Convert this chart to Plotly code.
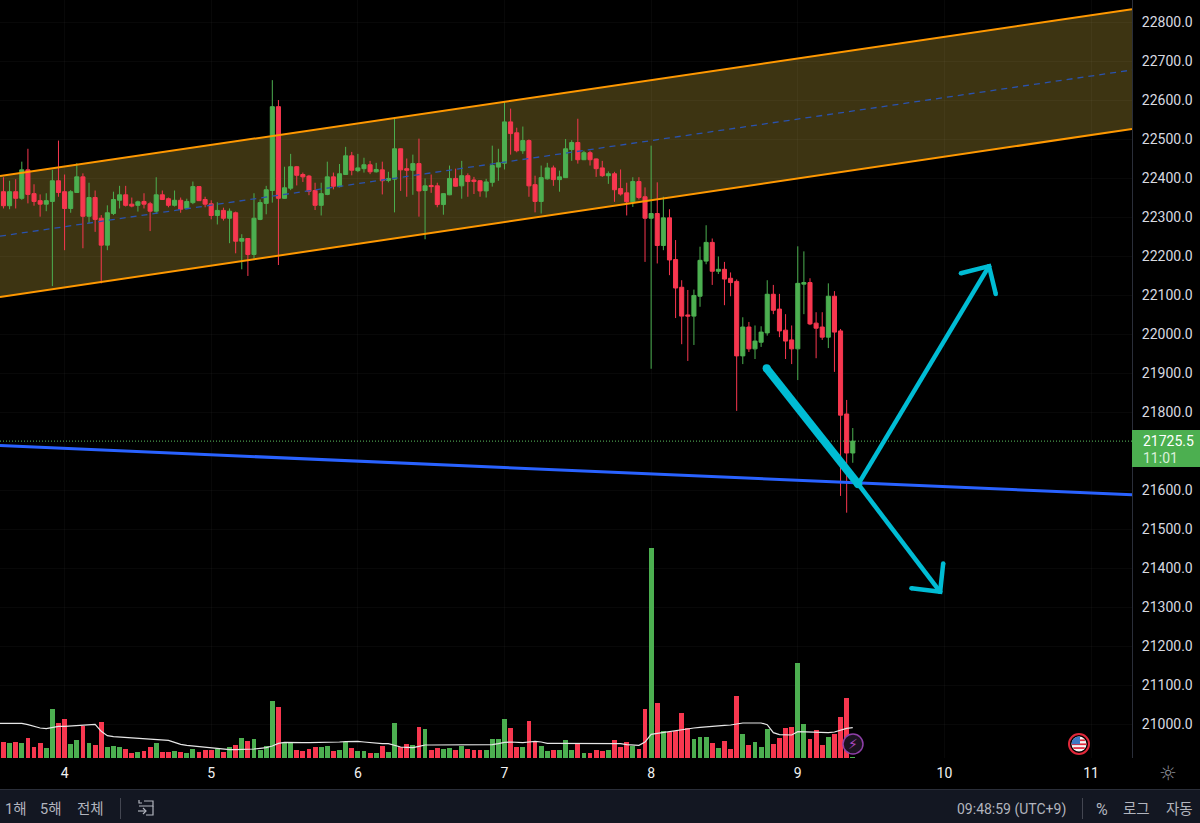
import math
import plotly.graph_objects as go

# hours since the start of day 4, one candle per hour
hours = list(range(-10, 130))

opens = [22365,22329,22365,22348,22421,22360,22342,22333,22340,22393,
         22365,22322,22363,22403,22302,22350,22297,22228,22309,22343,
         22357,22333,22330,22340,22334,22315,22357,22347,22330,22343,
         22322,22337,22378,22345,22334,22304,22317,22297,22311,22238,
         22245,22204,22294,22335,22368,22583,22348,22374,22429,22409,
         22405,22368,22330,22358,22403,22378,22409,22457,22419,22424,
         22434,22416,22421,22394,22397,22475,22424,22420,22437,22368,
         22381,22380,22332,22357,22399,22380,22406,22395,22393,22367,
         22389,22428,22438,22544,22516,22470,22496,22383,22340,22398,
         22426,22396,22401,22473,22491,22447,22465,22449,22426,22406,
         22411,22373,22362,22339,22391,22352,22297,22309,22227,22298,
         22191,22120,22049,22046,22097,22187,22235,22161,22166,22143,
         22135,21944,22018,21962,21979,22003,22102,22064,22010,21985,
         21962,22128,22132,22028,22018,21992,22097,22008,21795,21695]
highs = [22402,22393,22397,22442,22475,22384,22358,22361,22421,22496,
         22409,22369,22438,22412,22388,22368,22305,22330,22365,22380,
         22380,22350,22342,22361,22339,22402,22368,22350,22368,22350,
         22347,22391,22379,22352,22343,22338,22324,22322,22314,22256,
         22245,22361,22345,22380,22651,22600,22429,22462,22431,22414,
         22408,22388,22388,22442,22414,22436,22480,22467,22462,22452,
         22444,22439,22442,22416,22556,22476,22450,22460,22501,22399,
         22409,22388,22361,22432,22424,22444,22412,22403,22395,22398,
         22483,22475,22596,22578,22529,22532,22499,22406,22432,22439,
         22432,22419,22500,22497,22552,22470,22470,22450,22444,22417,
         22416,22422,22388,22402,22402,22376,22483,22389,22352,22320,
         22241,22138,22113,22114,22224,22279,22245,22199,22185,22158,
         22140,22043,22031,22022,22020,22138,22126,22103,22051,22022,
         22225,22212,22143,22056,22056,22130,22110,22013,21831,21759]
lows = [22322,22320,22322,22344,22335,22329,22301,22315,22123,22352,
        22215,22311,22362,22220,22284,22262,22130,22215,22305,22322,
        22327,22325,22314,22322,22264,22308,22344,22325,22327,22311,
        22320,22333,22341,22325,22294,22281,22291,22233,22207,22166,
        22149,22193,22292,22307,22337,22177,22347,22369,22381,22390,
        22356,22318,22304,22356,22371,22376,22408,22407,22415,22414,
        22410,22414,22358,22389,22312,22367,22352,22357,22301,22243,
        22362,22325,22306,22356,22378,22347,22352,22359,22352,22350,
        22378,22393,22422,22460,22466,22462,22352,22312,22309,22396,
        22380,22365,22400,22444,22437,22446,22432,22403,22403,22385,
        22339,22355,22304,22326,22345,22185,21911,22181,22215,22151,
        22041,21974,21931,21972,22070,22179,22126,22154,22074,22097,
        21803,21923,21954,21936,21967,21996,22051,21992,21936,21923,
        21882,22051,22023,21938,21985,21964,21903,21585,21542,21670]
closes = [22329,22365,22348,22421,22358,22340,22333,22342,22393,22363,
          22322,22365,22403,22302,22350,22294,22228,22311,22345,22357,
          22330,22328,22339,22333,22315,22357,22345,22330,22343,22320,
          22340,22378,22342,22333,22304,22317,22297,22315,22238,22245,
          22204,22297,22337,22370,22583,22348,22375,22429,22407,22403,
          22366,22330,22360,22403,22379,22411,22457,22420,22426,22434,
          22416,22422,22393,22399,22475,22421,22420,22437,22367,22380,
          22378,22332,22360,22399,22379,22406,22391,22391,22367,22390,
          22432,22439,22544,22514,22470,22496,22380,22340,22401,22426,
          22396,22403,22475,22491,22447,22465,22447,22424,22406,22411,
          22370,22359,22339,22391,22350,22297,22309,22227,22298,22190,
          22118,22046,22046,22099,22189,22235,22161,22166,22141,22132,
          21944,22018,21962,21982,22005,22102,22061,22008,21982,21962,
          22130,22132,22026,22015,21992,22097,22005,21792,21695,21725.5]
volumes = [48,45,48,45,60,33,45,30,147,105,117,42,54,96,45,39,108,33,36,33,
           27,15,18,21,33,45,18,18,21,18,15,27,18,24,24,27,18,33,39,60,
           51,57,24,36,171,153,45,45,24,21,27,33,33,36,21,24,48,30,21,21,
           15,15,36,18,105,33,42,39,93,87,24,30,
           27,30,24,36,27,24,24,24,57,57,117,90,33,33,111,48,36,21,24,24,
           54,24,45,15,15,24,21,24,54,33,48,36,27,147,630,165,81,78,81,135,
           90,57,63,63,45,30,51,27,186,72,39,48,33,87,42,60,90,93,285,102,
           57,84,39,63,72,123,180,3]
volume_ma = [104,104,104,104,100,95,90,88,92,95,95,96,98,99,100,101,80,67,64,63,
             60,59,58,57,56,55,54,53,47,41,38,36,33,31,29,28,26,25,25,25,
             25,27,29,31,36,44,47,46,46,46,46,46,47,47,47,48,49,50,50,48,
             46,44,43,43,39,33,32,31,35,39,39,39,39,39,38,38,38,38,38,39,
             40,43,47,48,46,46,48,50,48,44,44,44,45,45,45,44,44,44,44,44,
             44,43,40,38,38,48,71,74,77,79,81,86,88,90,92,94,96,97,98,99,
             103,105,105,105,105,100,76,70,69,69,79,78,77,77,76,76,78,84,89,91]

day_ticks = [0, 24, 48, 72, 96, 120, 144, 168]
day_labels = ["4", "5", "6", "7", "8", "9", "10", "11"]
price_ticks = [22800, 22700, 22600, 22500, 22400, 22300, 22200, 22100, 22000,
               21900, 21800, 21600, 21500, 21400, 21300, 21200, 21100, 21000]
price_labels = [f"{p:.1f}" for p in price_ticks]

# trend lines, values at the left and right edge of the chart
edge_x = [-10.57, 174.7]
channel_top = [22405, 22833]
channel_mid = [22251, 22677]
channel_bottom = [22095, 22526]
support_line = [21714, 21588]
last_price = 21725.5

# hand drawn arrows
thick_x = [114.9, 129.9]
thick_y = [21912, 21615]
down_x = [129.9, 143.3]
down_y = [21615, 21339]
down_head_x = [138.6, 143.3, 143.8]
down_head_y = [21348, 21339, 21412]
up_x = [129.9, 151.3]
up_y = [21615, 22174]
up_head_x = [146.7, 151.3, 152.4]
up_head_y = [22156, 22174, 22103]

GREEN = "#4caf50"
RED = "#f7374f"
CYAN = "#00bcd4"
ORANGE = "#ff9800"
TEXT = "#d8dae0"
MUTED = "#b2b5be"
FLAG_RED = "#e0283a"
W, H = 1200, 823
PLOT_W, PLOT_H = 1132, 758


def px(x):
    return x / PLOT_W


def py(y):
    return (PLOT_H - y) / PLOT_H


def rect(x0, y0, x1, y1, color, line=None, width=0, kind="rect", layer="above"):
    return dict(type=kind, xref="paper", yref="paper", x0=px(x0), x1=px(x1), y0=py(y0), y1=py(y1),
                fillcolor=color, line=dict(color=line or color, width=width), layer=layer)


def stroke(points, color, width=1.2):
    path = "M " + " L ".join(f"{px(a):.5f},{py(b):.5f}" for a, b in points)
    return dict(type="path", xref="paper", yref="paper", path=path, line=dict(color=color, width=width))


def blob(points, color):
    path = "M " + " L ".join(f"{px(a):.5f},{py(b):.5f}" for a, b in points) + " Z"
    return dict(type="path", xref="paper", yref="paper", path=path, fillcolor=color, line_width=0)


def label(x, y, text, size=13, color=MUTED, anchor="center", family="Roboto, 'Noto Sans CJK KR'"):
    return dict(xref="paper", yref="paper", x=px(x), y=py(y), text=text, showarrow=False, xanchor=anchor,
                yanchor="middle", font=dict(size=size, color=color, family=family))


fig = go.Figure()

bar_colors = [GREEN if c >= o else RED for o, c in zip(opens, closes)]
fig.add_trace(go.Bar(x=hours, y=volumes, marker=dict(color=bar_colors, line_width=0), width=0.79, yaxis="y2"))
# the average runs in from bars off the left edge
fig.add_trace(go.Scatter(x=[edge_x[0]] + hours, y=volume_ma[:1] + volume_ma, mode="lines",
                         line=dict(color="#e6e6e6", width=1.2), yaxis="y2"))

fig.add_trace(go.Candlestick(
    x=hours, open=opens, high=highs, low=lows, close=closes, whiskerwidth=0,
    increasing=dict(line=dict(color=GREEN, width=1), fillcolor=GREEN),
    decreasing=dict(line=dict(color=RED, width=1), fillcolor=RED),
))

fig.add_trace(go.Scatter(x=edge_x, y=channel_mid, mode="lines", line=dict(color="#2a52ae", width=1.3, dash="6px,5px")))
fig.add_trace(go.Scatter(x=edge_x, y=channel_top, mode="lines", line=dict(color=ORANGE, width=2)))
fig.add_trace(go.Scatter(x=edge_x, y=channel_bottom, mode="lines", line=dict(color=ORANGE, width=2)))
fig.add_trace(go.Scatter(x=edge_x, y=[last_price, last_price], mode="lines", line=dict(color="#5cc060", width=1, dash="1px,2px")))
fig.add_trace(go.Scatter(x=edge_x, y=support_line, mode="lines", line=dict(color="#2962ff", width=3)))

for xs, ys, w in [(thick_x, thick_y, 8), (down_x, down_y, 4.5), (down_head_x, down_head_y, 4.5),
                  (up_x, up_y, 4.5), (up_head_x, up_head_y, 4.5)]:
    fig.add_trace(go.Scatter(x=xs, y=ys, mode="lines+markers", line=dict(color=CYAN, width=w),
                             marker=dict(color=CYAN, size=w, line_width=0)))

# channel fill goes under the candles
fill_path = (f"M {edge_x[0]},{channel_top[0]} L {edge_x[1]},{channel_top[1]} "
             f"L {edge_x[1]},{channel_bottom[1]} L {edge_x[0]},{channel_bottom[0]} Z")
shapes = [dict(type="path", xref="x", yref="y", path=fill_path, fillcolor="#3d3412", line_width=0, layer="below")]

# bottom toolbar, price tag, separators
shapes += [
    rect(0, 790, W, 823, "#131722"),
    rect(0, 789, W, 790, "#2a2e39"),
    rect(120, 798, 121, 819, "#434651"),
    rect(1082, 798, 1083, 819, "#434651"),
    rect(1132, 430, 1200, 467, GREEN),
]
# calendar icon
shapes += [
    stroke([(142, 803), (139, 803), (139, 800)], MUTED),
    stroke([(139, 806), (153, 806), (153, 801), (144, 801)], MUTED),
    stroke([(153, 806), (153, 815), (146, 815)], MUTED),
    stroke([(138, 811), (146, 811)], MUTED),
    stroke([(143, 808), (146, 811), (143, 814)], MUTED),
]
# lightning badge
shapes.append(rect(843, 734, 863, 754, "#1b1320", line="#8e3fa8", width=1.5, kind="circle"))

# news flag badge
cx, cy, r = 1079, 744, 7.5
shapes.append(rect(cx - 10, cy - 10, cx + 10, cy + 10, "#000000", line=FLAG_RED, width=2, kind="circle"))
shapes.append(rect(cx - r, cy - r, cx + r, cy + r, "#f4f4f4", kind="circle"))
for top, bottom in [(-4.6, -2.9), (-0.6, 1.1), (3.2, 4.9)]:
    half = math.sqrt(r * r - max(top * top, bottom * bottom))
    shapes.append(rect(cx - half, cy + top, cx + half, cy + bottom, FLAG_RED))
arc = [(cx + r * math.cos(math.radians(a)), cy + r * math.sin(math.radians(a))) for a in range(180, 276, 15)]
shapes.append(blob([(cx - r, cy + 0.3)] + arc + [(cx + 1, cy - r), (cx + 1, cy + 0.3)], "#3b78c4"))

annotations = [
    label(1140.5, 441, "21725.5", 14, "#ffffff", "left"),
    label(1140.5, 458, "11:01", 14, "#d9efda", "left"),
    label(15.5, 809, "1해", 14.5),
    label(51, 809, "5해", 14.5),
    label(90, 809, "전체", 14.5),
    label(1011, 809, "09:48:59 (UTC+9)", 14),
    label(1102, 809, "%", 16),
    label(1136.5, 809, "로그", 14.5),
    label(1179.5, 809, "자동", 14.5),
    label(1168, 773, "☼", 20, "#8a8d96", family="DejaVu Sans"),
    label(853, 744, "⚡", 14, "#ab47bc", family="DejaVu Sans"),
]

fig.update_layout(
    width=W, height=H, margin=dict(l=0, r=W - PLOT_W, t=0, b=H - PLOT_H),
    paper_bgcolor="#000000", plot_bgcolor="#000000", showlegend=False, bargap=0, boxgap=0.05,
    font=dict(family="Roboto", color=TEXT, size=14),
    shapes=shapes, annotations=annotations,
    xaxis=dict(range=[edge_x[0], edge_x[1]], tickvals=day_ticks, ticktext=day_labels, rangeslider_visible=False,
               showgrid=True, gridcolor="rgba(255,255,255,0.03)", zeroline=False, showline=False, ticks="",
               tickfont=dict(size=14, color="#f2f2f2"), ticklabelstandoff=5),
    yaxis=dict(range=[20913, 22856.5], side="right", tickvals=price_ticks, ticktext=price_labels,
               showgrid=True, gridcolor="rgba(255,255,255,0.03)", zeroline=False, showline=True, linecolor="#2a2e39", linewidth=1,
               ticks="", tickfont=dict(size=14, color=TEXT), ticklabelstandoff=6),
    yaxis2=dict(overlaying="y", range=[0, PLOT_H * 3], visible=False),
)

fig.write_html("out.html", config=dict(displayModeBar=False),
               post_script="document.body.style.margin='0';document.body.style.overflow='hidden';")
